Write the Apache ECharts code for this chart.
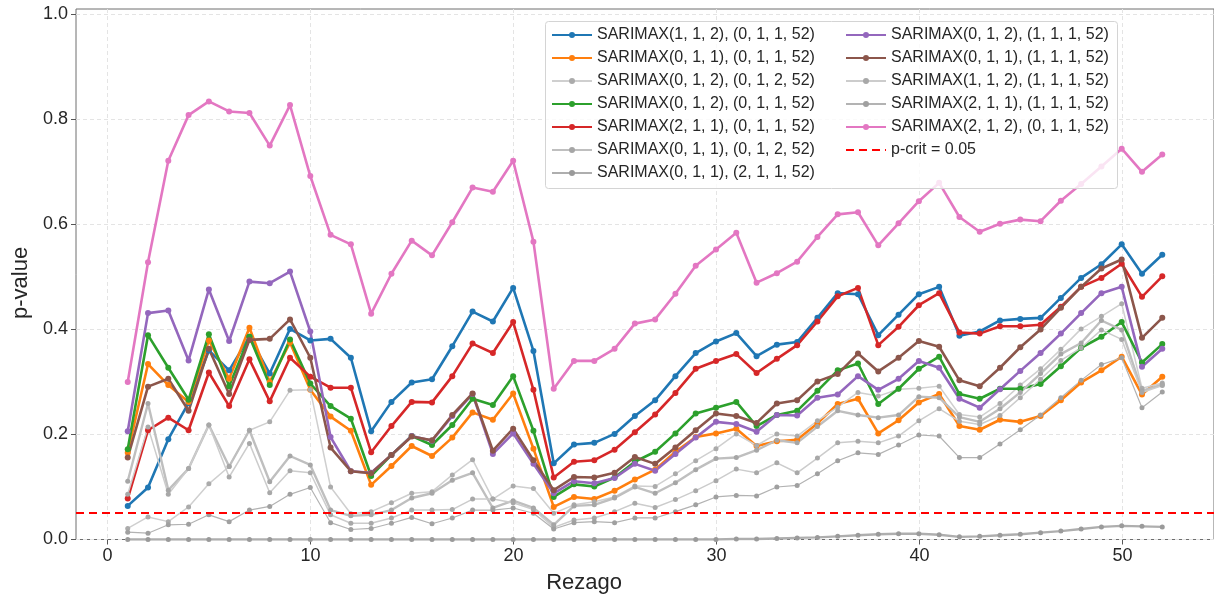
<!DOCTYPE html>
<html>
<head>
<meta charset="utf-8">
<script src="https://cdn.jsdelivr.net/npm/echarts@6/dist/echarts.min.js"></script>
<style>
  html, body { margin: 0; padding: 0; background: #ffffff; }
  #chart { width: 1214px; height: 600px; }
</style>
</head>
<body>
<div id="chart"></div>
<script>
// Ljung-Box p-values per lag for each candidate SARIMAX model
const lags = [1, 2, 3, 4, 5, 6, 7, 8, 9, 10, 11, 12, 13, 14, 15, 16, 17, 18, 19, 20,
  21, 22, 23, 24, 25, 26, 27, 28, 29, 30, 31, 32, 33, 34, 35, 36, 37, 38, 39, 40,
  41, 42, 43, 44, 45, 46, 47, 48, 49, 50, 51, 52];

const m112_011 = [0.064, 0.099, 0.191, 0.260, 0.360, 0.322, 0.386, 0.316, 0.401, 0.379,
  0.382, 0.346, 0.206, 0.262, 0.299, 0.305, 0.368, 0.434, 0.415, 0.479,
  0.359, 0.145, 0.181, 0.184, 0.201, 0.235, 0.265, 0.311, 0.355, 0.377,
  0.393, 0.349, 0.371, 0.376, 0.422, 0.469, 0.467, 0.389, 0.428, 0.467,
  0.481, 0.388, 0.396, 0.417, 0.420, 0.422, 0.460, 0.498, 0.524, 0.562, 0.506, 0.542];

const m011_011 = [0.165, 0.334, 0.294, 0.262, 0.379, 0.306, 0.403, 0.300, 0.375, 0.285,
  0.234, 0.207, 0.104, 0.140, 0.178, 0.159, 0.194, 0.242, 0.228, 0.278,
  0.173, 0.062, 0.081, 0.077, 0.093, 0.114, 0.133, 0.167, 0.195, 0.202,
  0.211, 0.178, 0.187, 0.190, 0.221, 0.258, 0.268, 0.202, 0.227, 0.261,
  0.277, 0.216, 0.209, 0.228, 0.224, 0.235, 0.265, 0.299, 0.322, 0.348, 0.276, 0.310];

const m012_012 = [0.021, 0.043, 0.034, 0.062, 0.106, 0.139, 0.208, 0.224, 0.284, 0.285,
  0.100, 0.049, 0.053, 0.070, 0.088, 0.091, 0.123, 0.152, 0.077, 0.102,
  0.097, 0.050, 0.066, 0.072, 0.081, 0.102, 0.101, 0.125, 0.150, 0.173,
  0.201, 0.179, 0.201, 0.197, 0.226, 0.252, 0.280, 0.273, 0.286, 0.288,
  0.292, 0.238, 0.233, 0.259, 0.294, 0.325, 0.362, 0.401, 0.425, 0.449, 0.288, 0.298];

const m012_011 = [0.172, 0.389, 0.327, 0.266, 0.391, 0.292, 0.386, 0.294, 0.381, 0.297,
  0.254, 0.230, 0.121, 0.161, 0.197, 0.180, 0.218, 0.268, 0.256, 0.311,
  0.207, 0.081, 0.105, 0.101, 0.118, 0.148, 0.167, 0.202, 0.240, 0.251,
  0.262, 0.216, 0.237, 0.245, 0.283, 0.322, 0.335, 0.258, 0.287, 0.325,
  0.348, 0.277, 0.268, 0.287, 0.287, 0.296, 0.330, 0.365, 0.386, 0.414, 0.337, 0.372];

const m211_011 = [0.078, 0.208, 0.232, 0.208, 0.318, 0.254, 0.343, 0.263, 0.346, 0.310,
  0.289, 0.289, 0.166, 0.216, 0.262, 0.261, 0.311, 0.373, 0.355, 0.414,
  0.285, 0.118, 0.148, 0.151, 0.171, 0.204, 0.238, 0.279, 0.325, 0.340,
  0.353, 0.317, 0.344, 0.370, 0.415, 0.463, 0.479, 0.370, 0.405, 0.446,
  0.469, 0.394, 0.392, 0.406, 0.406, 0.409, 0.443, 0.481, 0.498, 0.525, 0.462, 0.501];

const m011_012 = [0.111, 0.259, 0.094, 0.135, 0.218, 0.139, 0.208, 0.110, 0.159, 0.142,
  0.056, 0.045, 0.047, 0.056, 0.079, 0.088, 0.113, 0.127, 0.060, 0.074,
  0.060, 0.028, 0.064, 0.066, 0.079, 0.100, 0.088, 0.108, 0.133, 0.154,
  0.156, 0.170, 0.189, 0.184, 0.215, 0.245, 0.237, 0.232, 0.237, 0.272,
  0.270, 0.233, 0.224, 0.249, 0.280, 0.316, 0.353, 0.374, 0.417, 0.399, 0.283, 0.295];

const m011_211 = [0.000, 0.000, 0.000, 0.000, 0.000, 0.000, 0.000, 0.000, 0.000, 0.000,
  0.000, 0.000, 0.000, 0.000, 0.000, 0.000, 0.000, 0.000, 0.000, 0.000,
  0.000, 0.000, 0.000, 0.000, 0.000, 0.000, 0.000, 0.000, 0.000, 0.000,
  0.001, 0.001, 0.002, 0.003, 0.004, 0.006, 0.008, 0.010, 0.011, 0.011,
  0.009, 0.005, 0.006, 0.008, 0.010, 0.013, 0.016, 0.020, 0.024, 0.026, 0.025, 0.024];

const m012_111 = [0.206, 0.431, 0.436, 0.341, 0.476, 0.378, 0.491, 0.488, 0.510, 0.396,
  0.195, 0.130, 0.127, 0.161, 0.197, 0.188, 0.235, 0.277, 0.163, 0.202,
  0.144, 0.088, 0.111, 0.107, 0.117, 0.144, 0.131, 0.163, 0.194, 0.224,
  0.220, 0.205, 0.237, 0.236, 0.270, 0.276, 0.311, 0.285, 0.306, 0.340,
  0.327, 0.268, 0.251, 0.286, 0.321, 0.355, 0.392, 0.431, 0.469, 0.481, 0.329, 0.363];

const m011_111 = [0.156, 0.291, 0.306, 0.245, 0.363, 0.277, 0.380, 0.382, 0.419, 0.346,
  0.175, 0.130, 0.126, 0.161, 0.196, 0.189, 0.237, 0.278, 0.169, 0.211,
  0.151, 0.094, 0.119, 0.118, 0.127, 0.157, 0.144, 0.175, 0.208, 0.240,
  0.235, 0.222, 0.259, 0.265, 0.301, 0.315, 0.354, 0.320, 0.346, 0.378,
  0.367, 0.303, 0.292, 0.327, 0.366, 0.400, 0.441, 0.481, 0.516, 0.533, 0.384, 0.422];

const m112_111 = [0.086, 0.214, 0.086, 0.135, 0.218, 0.119, 0.183, 0.089, 0.131, 0.127,
  0.047, 0.031, 0.031, 0.041, 0.056, 0.056, 0.057, 0.077, 0.077, 0.070,
  0.057, 0.023, 0.037, 0.041, 0.053, 0.069, 0.061, 0.076, 0.093, 0.112,
  0.134, 0.127, 0.146, 0.127, 0.155, 0.184, 0.187, 0.184, 0.197, 0.226,
  0.249, 0.225, 0.219, 0.236, 0.270, 0.305, 0.341, 0.365, 0.399, 0.381, 0.280, 0.293];

const m211_111 = [0.014, 0.012, 0.028, 0.029, 0.047, 0.034, 0.056, 0.063, 0.086, 0.099,
  0.032, 0.019, 0.021, 0.031, 0.042, 0.030, 0.041, 0.056, 0.056, 0.060,
  0.050, 0.020, 0.032, 0.034, 0.032, 0.041, 0.041, 0.053, 0.066, 0.081,
  0.084, 0.083, 0.100, 0.103, 0.125, 0.150, 0.165, 0.162, 0.180, 0.199,
  0.197, 0.156, 0.156, 0.182, 0.209, 0.237, 0.270, 0.303, 0.333, 0.346, 0.251, 0.281];

const m212_011 = [0.300, 0.528, 0.721, 0.808, 0.834, 0.815, 0.812, 0.750, 0.827, 0.692,
  0.580, 0.562, 0.430, 0.506, 0.569, 0.541, 0.604, 0.670, 0.662, 0.721,
  0.567, 0.287, 0.340, 0.340, 0.363, 0.411, 0.419, 0.468, 0.521, 0.552,
  0.584, 0.489, 0.507, 0.529, 0.576, 0.619, 0.623, 0.560, 0.602, 0.644,
  0.679, 0.614, 0.586, 0.601, 0.609, 0.606, 0.645, 0.677, 0.710, 0.744, 0.700, 0.733];

const P_CRIT = 0.05;
const xTicks = [0, 10, 20, 30, 40, 50];
const yTicks = [0.0, 0.2, 0.4, 0.6, 0.8, 1.0];

// Model list in drawing order (later entries sit on top)
const models = [
  { name: 'SARIMAX(1, 1, 2), (0, 1, 1, 52)', values: m112_011, color: '#1f77b4', width: 2.6, dot: '#1f77b4', size: 6 },
  { name: 'SARIMAX(0, 1, 1), (0, 1, 1, 52)', values: m011_011, color: '#ff7f0e', width: 2.6, dot: '#ff7f0e', size: 6 },
  { name: 'SARIMAX(0, 1, 2), (0, 1, 2, 52)', values: m012_012, color: '#cfcfcf', width: 1.5, dot: '#ababab', size: 5 },
  { name: 'SARIMAX(0, 1, 2), (0, 1, 1, 52)', values: m012_011, color: '#2ca02c', width: 2.6, dot: '#2ca02c', size: 6 },
  { name: 'SARIMAX(2, 1, 1), (0, 1, 1, 52)', values: m211_011, color: '#d62728', width: 2.6, dot: '#d62728', size: 6 },
  { name: 'SARIMAX(0, 1, 1), (0, 1, 2, 52)', values: m011_012, color: '#bfbfbf', width: 2.4, dot: '#a6a6a6', size: 5 },
  { name: 'SARIMAX(0, 1, 1), (2, 1, 1, 52)', values: m011_211, color: '#aeaeae', width: 2.4, dot: '#9a9a9a', size: 5 },
  { name: 'SARIMAX(0, 1, 2), (1, 1, 1, 52)', values: m012_111, color: '#9467bd', width: 2.6, dot: '#9467bd', size: 6 },
  { name: 'SARIMAX(0, 1, 1), (1, 1, 1, 52)', values: m011_111, color: '#8c564b', width: 2.6, dot: '#8c564b', size: 6 },
  { name: 'SARIMAX(1, 1, 2), (1, 1, 1, 52)', values: m112_111, color: '#cccccc', width: 1.5, dot: '#a8a8a8', size: 5 },
  { name: 'SARIMAX(2, 1, 1), (1, 1, 1, 52)', values: m211_111, color: '#b3b3b3', width: 1.2, dot: '#a0a0a0', size: 5 },
  { name: 'SARIMAX(2, 1, 2), (0, 1, 1, 52)', values: m212_011, color: '#e377c2', width: 2.6, dot: '#e377c2', size: 6 }
];
const CRIT_NAME = 'p-crit = 0.05';

// Axes frame (pixels) and data ranges
const W = 1214, H = 600;
const FRAME = { left: 76, top: 9, right: 1215, bottom: 539.5 };
const X_MIN = -1.55, X_MAX = 54.55, Y_MIN = 0, Y_MAX = 1.01;
const FW = FRAME.right - FRAME.left, FH = FRAME.bottom - FRAME.top;
const xPix = v => FRAME.left + (v - X_MIN) / (X_MAX - X_MIN) * FW;
const yPix = v => FRAME.bottom - (v - Y_MIN) / (Y_MAX - Y_MIN) * FH;

const FONT = "'Liberation Sans', Arial, Helvetica, sans-serif";
const gridLine = { show: true, lineStyle: { color: '#e4e4e4', width: 1, type: [4, 3] } };
const tickStyle = { show: true, length: 5, inside: false, lineStyle: { color: '#555555', width: 1 } };

const xT0 = xTicks[0], xT1 = xTicks[xTicks.length - 1];
const yT0 = yTicks[0], yT1 = yTicks[yTicks.length - 1];

const series = models.map(m => ({
  type: 'line',
  name: m.name,
  xAxisIndex: 0, yAxisIndex: 0,
  data: lags.map((l, i) => [l, m.values[i]]),
  symbol: 'circle',
  symbolSize: m.size,
  showSymbol: true,
  lineStyle: { color: m.color, width: m.width },
  itemStyle: { color: m.dot },
  emphasis: { disabled: true },
  animation: false
}));

series.push({
  type: 'line',
  name: CRIT_NAME,
  xAxisIndex: 0, yAxisIndex: 0,
  data: [],
  symbol: 'none',
  lineStyle: { color: '#ff0000', width: 2.2, type: [8, 5] },
  itemStyle: { color: '#ff0000' },
  markLine: {
    silent: true,
    symbol: ['none', 'none'],
    label: { show: false },
    lineStyle: { color: '#ff0000', width: 2.2, type: [8, 5] },
    data: [{ yAxis: P_CRIT }]
  },
  animation: false
});

const legendText = { fontFamily: FONT, fontSize: 16, color: '#262626' };
const legendItem = n => (n === CRIT_NAME ? { name: n, itemStyle: { opacity: 0 } } : { name: n });
const col1 = models.slice(0, 7).map(m => m.name);
const col2 = models.slice(7).map(m => m.name).concat([CRIT_NAME]);
const legendCommon = { z: 10, orient: 'vertical', top: 22, itemWidth: 40, itemHeight: 7.5, itemGap: 7,
  textStyle: legendText, selectedMode: false };

const option = {
  backgroundColor: '#ffffff',
  animation: false,
  grid: [
    // data area with the frame
    { left: FRAME.left, top: FRAME.top, width: FW, height: FH, show: true,
      borderColor: '#6e6e6e', borderWidth: 1, backgroundColor: 'transparent' },
    // x tick span
    { left: xPix(xT0), top: FRAME.top, width: xPix(xT1) - xPix(xT0), height: FH, show: false },
    // y tick span
    { left: FRAME.left, top: yPix(yT1), width: FW, height: yPix(yT0) - yPix(yT1), show: false }
  ],
  xAxis: [
    { gridIndex: 0, type: 'value', min: X_MIN, max: X_MAX, show: false },
    { gridIndex: 1, type: 'value', min: xT0, max: xT1, interval: 10,
      axisLine: { show: false }, axisTick: tickStyle, splitLine: gridLine,
      axisLabel: { fontFamily: FONT, fontSize: 18, color: '#262626', margin: 8 },
      name: 'Rezago', nameLocation: 'middle', nameGap: 32,
      nameTextStyle: { fontFamily: FONT, fontSize: 22, color: '#262626', padding: [0, 62, 0, 0] } },
    { gridIndex: 2, type: 'value', min: 0, max: 1, show: false }
  ],
  yAxis: [
    { gridIndex: 0, type: 'value', min: Y_MIN, max: Y_MAX, show: false },
    { gridIndex: 1, type: 'value', min: 0, max: 1, show: false },
    { gridIndex: 2, type: 'value', min: yT0, max: yT1, interval: 0.2,
      axisLine: { show: false }, axisTick: tickStyle, splitLine: gridLine,
      axisLabel: { fontFamily: FONT, fontSize: 18, color: '#262626', margin: 8,
        formatter: v => v.toFixed(1) },
      name: 'p-value', nameLocation: 'middle', nameGap: 36, nameRotate: 90,
      nameTextStyle: { fontFamily: FONT, fontSize: 22, color: '#262626', padding: [0, 12, 0, 0] } }
  ],
  legend: [
    Object.assign({ left: 546, data: col1.map(legendItem) }, legendCommon),
    Object.assign({ left: 840, data: col2.map(legendItem) }, legendCommon)
  ],
  graphic: [
    { type: 'rect', z: 9, silent: true,
      shape: { x: 545.5, y: 21.5, width: 572, height: 167, r: 3 },
      style: { fill: 'rgba(255,255,255,0.8)', stroke: '#d4d4d4', lineWidth: 1 } }
  ],
  series: series
};

const chart = echarts.init(document.getElementById('chart'), null, { renderer: 'canvas', width: W, height: H });
chart.setOption(option);
</script>
</body>
</html>
